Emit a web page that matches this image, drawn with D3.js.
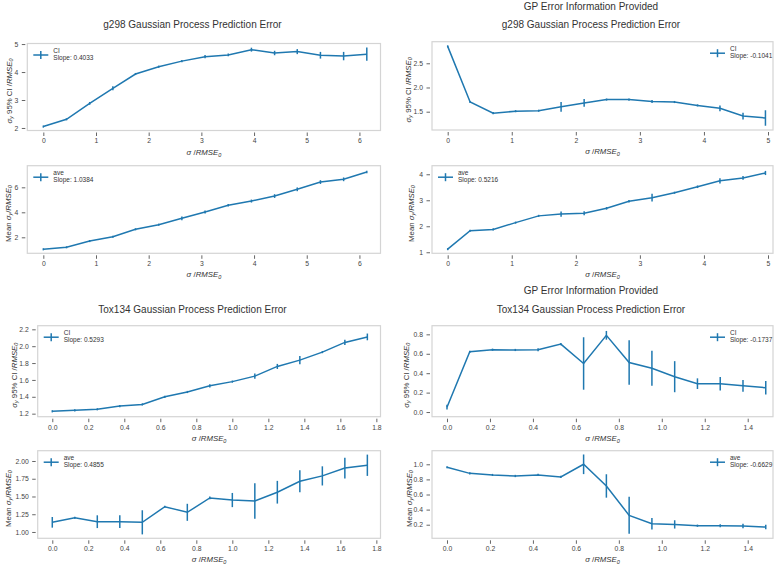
<!DOCTYPE html>
<html><head><meta charset="utf-8">
<script src="https://cdn.jsdelivr.net/npm/d3@7"></script>
<style>body{margin:0;background:#fff} svg{display:block;font-family:"Liberation Sans",Arial,sans-serif}</style>
</head><body><svg id="c" width="784" height="566"></svg>
<script>
// ---------- data ----------
const xG298Left  = [0, 0.44, 0.88, 1.32, 1.75, 2.19, 2.63, 3.07, 3.51, 3.95, 4.39, 4.82, 5.26, 5.70, 6.14];
const xG298Right = [0, 0.35, 0.71, 1.06, 1.42, 1.77, 2.13, 2.48, 2.83, 3.19, 3.54, 3.90, 4.25, 4.61, 4.96];
const xToxLeft   = [0, 0.125, 0.25, 0.375, 0.5, 0.625, 0.75, 0.875, 1.0, 1.125, 1.25, 1.375, 1.5, 1.625, 1.75];
const xToxRight  = [0, 0.106, 0.212, 0.318, 0.424, 0.53, 0.636, 0.742, 0.848, 0.954, 1.06, 1.166, 1.272, 1.378, 1.484];

const ciG298Left     = [2.05, 2.31, 2.88, 3.42, 3.93, 4.19, 4.39, 4.55, 4.61, 4.80, 4.68, 4.73, 4.60, 4.57, 4.64];
const ciG298LeftErr  = [0.02, 0.02, 0.05, 0.07, 0.03, 0.04, 0.04, 0.06, 0.05, 0.07, 0.08, 0.09, 0.12, 0.15, 0.24];
const aveG298Left    = [1.04, 1.20, 1.70, 2.05, 2.64, 3.01, 3.52, 4.02, 4.56, 4.90, 5.30, 5.84, 6.42, 6.64, 7.22];
const aveG298LeftErr = [0.03, 0.03, 0.05, 0.05, 0.05, 0.08, 0.15, 0.12, 0.10, 0.12, 0.15, 0.15, 0.15, 0.15, 0.10];

const ciG298Right     = [2.85, 1.70, 1.47, 1.51, 1.52, 1.60, 1.68, 1.75, 1.75, 1.71, 1.70, 1.63, 1.57, 1.41, 1.37];
const ciG298RightErr  = [0.00, 0.00, 0.01, 0.01, 0.01, 0.10, 0.08, 0.02, 0.02, 0.03, 0.01, 0.02, 0.06, 0.07, 0.16];
const aveG298Right    = [1.12, 1.83, 1.88, 2.14, 2.40, 2.47, 2.50, 2.69, 2.96, 3.10, 3.29, 3.52, 3.75, 3.86, 4.05];
const aveG298RightErr = [0.00, 0.02, 0.01, 0.01, 0.01, 0.10, 0.08, 0.05, 0.05, 0.15, 0.04, 0.05, 0.10, 0.07, 0.08];

const ciToxLeft     = [1.228, 1.24, 1.252, 1.29, 1.31, 1.40, 1.457, 1.53, 1.58, 1.645, 1.76, 1.835, 1.93, 2.045, 2.11];
const ciToxLeftErr  = [0.003, 0.003, 0.003, 0.01, 0.01, 0.01, 0.01, 0.02, 0.01, 0.03, 0.03, 0.05, 0.005, 0.03, 0.04];
const aveToxLeft    = [1.136, 1.20, 1.145, 1.145, 1.136, 1.356, 1.277, 1.48, 1.45, 1.437, 1.56, 1.714, 1.79, 1.90, 1.94];
const aveToxLeftErr = [0.075, 0.00, 0.09, 0.09, 0.17, 0.01, 0.12, 0.02, 0.10, 0.25, 0.16, 0.155, 0.135, 0.145, 0.15];

const ciToxRight     = [0.05, 0.62, 0.642, 0.639, 0.642, 0.70, 0.50, 0.79, 0.51, 0.45, 0.364, 0.292, 0.292, 0.27, 0.25];
const ciToxRightErr  = [0.025, 0.01, 0.005, 0.005, 0.015, 0.005, 0.27, 0.045, 0.23, 0.18, 0.16, 0.055, 0.07, 0.06, 0.07];
const aveToxRight    = [0.96, 0.88, 0.859, 0.845, 0.859, 0.832, 1.00, 0.713, 0.324, 0.213, 0.204, 0.187, 0.187, 0.182, 0.169];
const aveToxRightErr = [0.005, 0.005, 0.01, 0.015, 0.015, 0.015, 0.13, 0.155, 0.245, 0.075, 0.055, 0.015, 0.02, 0.03, 0.03];

const seriesNames = ["CI", "ave"];
const slopeLabels = ["Slope: 0.4033", "Slope: 1.0384", "Slope: -0.1041", "Slope: 0.5216",
                     "Slope: 0.5293", "Slope: 0.4855", "Slope: -0.1737", "Slope: -0.6629"];
const xTicksG298Left  = [0, 1, 2, 3, 4, 5, 6];
const xTicksG298Right = [0, 1, 2, 3, 4, 5];
const xTicksToxLeft   = [0, 0.2, 0.4, 0.6, 0.8, 1.0, 1.2, 1.4, 1.6, 1.8];
const xTicksToxRight  = [0, 0.2, 0.4, 0.6, 0.8, 1.0, 1.2, 1.4];
const titles = ["g298 Gaussian Process Prediction Error", "Tox134 Gaussian Process Prediction Error"];
const supTitle = "GP Error Information Provided";

// ---------- layout ----------
const color = "#1f78b0";
const svg = d3.select("#c");
const TICK_FS = 6.8, LEG_FS = 6.5, LAB_FS = 7.8, TITLE_FS = 10;

const panels = [
  {x:xG298Left, y:ciG298Left, e:ciG298LeftErr, name:0, slope:0, kind:"ci", box:[27.3,380.5,43.5,130.5],
   xd:[-0.304,6.40], yd:[1.91,5.02], xt:xTicksG298Left, yt:[2,3,4,5], xf:d3.format("d"), yf:d3.format("d"), leg:"left", ylx:9},
  {x:xG298Left, y:aveG298Left, e:aveG298LeftErr, name:1, slope:1, kind:"ave", box:[27.3,380.5,165.7,253.3],
   xd:[-0.304,6.40], yd:[0.72,7.73], xt:xTicksG298Left, yt:[2,4,6], xf:d3.format("d"), yf:d3.format("d"), leg:"left", ylx:7.5},
  {x:xG298Right, y:ciG298Right, e:ciG298RightErr, name:0, slope:2, kind:"ci", box:[432,773,41.7,130],
   xd:[-0.245,5.078], yd:[1.122,2.946], xt:xTicksG298Right, yt:[1.5,2.0,2.5], xf:d3.format("d"), yf:d3.format(".1f"), leg:"right", ylx:408},
  {x:xG298Right, y:aveG298Right, e:aveG298RightErr, name:1, slope:3, kind:"ave", box:[432,773,165.7,253.3],
   xd:[-0.245,5.078], yd:[0.96,4.33], xt:xTicksG298Right, yt:[1,2,3,4], xf:d3.format("d"), yf:d3.format("d"), leg:"left", ylx:411},
  {x:xToxLeft, y:ciToxLeft, e:ciToxLeftErr, name:0, slope:4, kind:"ci", box:[37.7,380.5,325.7,416.7],
   xd:[-0.081,1.823], yd:[1.164,2.243], xt:xTicksToxLeft, yt:[1.2,1.4,1.6,1.8,2.0,2.2], xf:d3.format(".1f"), yf:d3.format(".1f"), leg:"left", ylx:14},
  {x:xToxLeft, y:aveToxLeft, e:aveToxLeftErr, name:1, slope:5, kind:"ave", box:[37.7,380.5,450.7,538.3],
   xd:[-0.081,1.823], yd:[0.911,2.145], xt:xTicksToxLeft, yt:[1.0,1.25,1.5,1.75,2.0], xf:d3.format(".1f"), yf:d3.format(".2f"), leg:"left", ylx:7.5},
  {x:xToxRight, y:ciToxRight, e:ciToxRightErr, name:0, slope:6, kind:"ci", box:[432,773,325.7,416.7],
   xd:[-0.0698,1.5177], yd:[-0.048,0.889], xt:xTicksToxRight, yt:[0,0.2,0.4,0.6,0.8], xf:d3.format(".1f"), yf:d3.format(".1f"), leg:"right", ylx:406},
  {x:xToxRight, y:aveToxRight, e:aveToxRightErr, name:1, slope:7, kind:"ave", box:[432,773,450.7,538.3],
   xd:[-0.0698,1.5177], yd:[0.02,1.18], xt:xTicksToxRight, yt:[0.2,0.4,0.6,0.8,1.0], xf:d3.format(".1f"), yf:d3.format(".1f"), leg:"right", ylx:408.7}
];

function mathText(t, fs, parts) {
  let sub = false;
  parts.forEach(p => {
    const s = t.append("tspan").text(p.t);
    if (p.i) s.attr("font-style", "italic");
    if (p.sub) { s.attr("font-size", fs * 0.7).attr("dy", fs * 0.28); sub = true; }
    else if (sub) { s.attr("dy", -fs * 0.28); sub = false; }
  });
}

panels.forEach(p => {
  const [L, R, T, B] = p.box;
  const xs = d3.scaleLinear().domain(p.xd).range([L, R]);
  const ys = d3.scaleLinear().domain(p.yd).range([B, T]);
  const g = svg.append("g");

  // frame
  g.append("rect").attr("x", L).attr("y", T).attr("width", R - L).attr("height", B - T)
    .attr("fill", "#fff").attr("stroke", "#d4d4d4").attr("stroke-width", 1.2);

  // axes (ticks offset outward a little from the frame)
  const xa = g.append("g").attr("transform", `translate(0,${B + 2})`)
    .call(d3.axisBottom(xs).tickValues(p.xt).tickFormat(p.xf).tickSize(3.5).tickSizeOuter(0).tickPadding(2.5));
  const ya = g.append("g").attr("transform", `translate(${L - 2},0)`)
    .call(d3.axisLeft(ys).tickValues(p.yt).tickFormat(p.yf).tickSize(3.5).tickSizeOuter(0).tickPadding(3.5));
  [xa, ya].forEach(a => {
    a.select(".domain").remove();
    a.selectAll("line").attr("stroke", "#555").attr("stroke-width", 0.9);
    a.selectAll("text").attr("fill", "#444").attr("font-size", TICK_FS).attr("font-family", "Liberation Sans, Arial, sans-serif");
  });

  // x label
  const xl = g.append("text").attr("x", (L + R) / 2).attr("y", B + 24).attr("text-anchor", "middle")
    .attr("font-size", LAB_FS).attr("fill", "#333");
  mathText(xl, LAB_FS, [{t:"σ", i:true}, {t:" /"}, {t:"RMSE", i:true}, {t:"0", i:true, sub:true}]);

  // y label
  const cy = (T + B) / 2 + 4;
  const yl = g.append("text").attr("transform", `translate(${p.ylx},${cy}) rotate(-90)`)
    .attr("text-anchor", "middle").attr("dominant-baseline", "central")
    .attr("font-size", LAB_FS).attr("fill", "#333");
  if (p.kind === "ci")
    mathText(yl, LAB_FS, [{t:"σ", i:true}, {t:"y", i:true, sub:true}, {t:" 95% CI /"}, {t:"RMSE", i:true}, {t:"0", i:true, sub:true}]);
  else
    mathText(yl, LAB_FS, [{t:"Mean "}, {t:"σ", i:true}, {t:"y", i:true, sub:true}, {t:"/"}, {t:"RMSE", i:true}, {t:"0", i:true, sub:true}]);

  // data
  const pts = p.x.map((xv, i) => ({x: xv, y: p.y[i], e: p.e[i]}));
  g.append("path").datum(pts)
    .attr("d", d3.line().x(d => xs(d.x)).y(d => ys(d.y)))
    .attr("fill", "none").attr("stroke", color).attr("stroke-width", 1.5);
  g.selectAll(".eb").data(pts).join("line").attr("class", "eb")
    .attr("x1", d => xs(d.x)).attr("x2", d => xs(d.x))
    .attr("y1", d => ys(d.y - Math.max(d.e, 0.012 * (p.yd[1] - p.yd[0]))))
    .attr("y2", d => ys(d.y + Math.max(d.e, 0.012 * (p.yd[1] - p.yd[0]))))
    .attr("stroke", color).attr("stroke-width", 1.5);

  // legend
  const lx = p.leg === "left" ? L + 6 : R - 63;
  const ly = T + 11.5;
  g.append("line").attr("x1", lx).attr("x2", lx + 15).attr("y1", ly).attr("y2", ly).attr("stroke", color).attr("stroke-width", 1.5);
  g.append("line").attr("x1", lx + 7.5).attr("x2", lx + 7.5).attr("y1", ly - 4).attr("y2", ly + 4).attr("stroke", color).attr("stroke-width", 1.5);
  g.append("text").attr("x", lx + 20).attr("y", T + 9).attr("font-size", LEG_FS).attr("fill", "#333").text(seriesNames[p.name]);
  g.append("text").attr("x", lx + 20).attr("y", T + 16.3).attr("font-size", LEG_FS).attr("fill", "#333").text(slopeLabels[p.slope]);
});

// titles
const tt = (x, y, s) => svg.append("text").attr("x", x).attr("y", y).attr("text-anchor", "middle")
  .attr("font-size", TITLE_FS).attr("fill", "#333").text(s);
tt(192.5, 28, titles[0]);
tt(591, 10, supTitle);
tt(591, 28, titles[0]);
tt(192.5, 312.5, titles[1]);
tt(591, 294, supTitle);
tt(591, 312.5, titles[1]);
</script></body></html>
